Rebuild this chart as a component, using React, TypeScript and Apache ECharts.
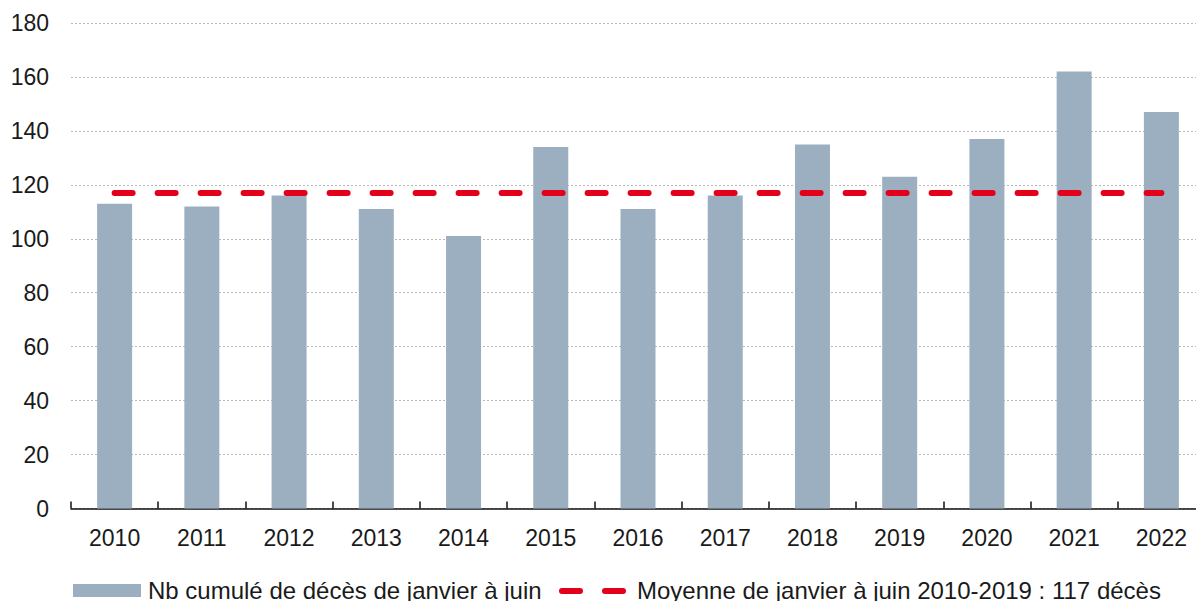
import React, { useEffect, useRef } from "react";
import * as echarts from "echarts";

const years = ["2010", "2011", "2012", "2013", "2014", "2015", "2016", "2017", "2018", "2019", "2020", "2021", "2022"];
const deaths = [113, 112, 116, 111, 101, 134, 111, 116, 135, 123, 137, 162, 147];
const averageValue = 117;
const averageLine = years.map(() => averageValue);
const barName = "Nb cumulé de décès de janvier à juin";
const lineName = "Moyenne de janvier à juin 2010-2019 : 117 décès";

const FONT = "'Liberation Sans', Arial, Helvetica, sans-serif";
const BAR_COLOR = "#9cafc0";
const RED = "#e2001a";

export default function App() {
  const ref = useRef<HTMLDivElement>(null);
  useEffect(() => {
    if (!ref.current) return;
    const chart = echarts.init(ref.current, undefined, { renderer: "svg" });
    chart.setOption({
      animation: false,
      backgroundColor: "#ffffff",
      grid: { left: 71, top: 23, width: 1134, height: 485.5, containLabel: false },
      xAxis: {
        type: "category",
        data: years,
        boundaryGap: true,
        axisLine: { show: true, lineStyle: { color: "#111", width: 1.5 } },
        axisTick: { show: true, inside: true, length: 7, alignWithLabel: false, lineStyle: { color: "#111", width: 1.5 } },
        axisLabel: { color: "#1a1a1a", fontSize: 23, fontFamily: FONT, margin: 18 },
        splitLine: { show: false },
      },
      yAxis: {
        type: "value",
        min: 0,
        max: 180,
        interval: 20,
        axisLine: { show: false },
        axisTick: { show: false },
        axisLabel: { color: "#1a1a1a", fontSize: 23, fontFamily: FONT, margin: 22 },
        splitLine: { show: true, lineStyle: { color: "#b8b8b8", width: 1, type: [2, 2] } },
      },
      series: [
        {
          name: barName,
          type: "bar",
          data: deaths,
          barWidth: 35,
          itemStyle: { color: BAR_COLOR },
          z: 2,
        },
        {
          name: lineName,
          type: "line",
          data: averageLine,
          symbol: "none",
          lineStyle: { color: RED, width: 6, type: [18, 25], cap: "round" },
          z: 3,
        },
      ],
      graphic: [
        { type: "rect", shape: { x: 73, y: 584, width: 68, height: 13 }, style: { fill: BAR_COLOR } },
        {
          type: "text",
          x: 148,
          y: 590,
          style: { text: barName, fontSize: 24, fontFamily: FONT, fill: "#1a1a1a", verticalAlign: "middle", align: "left" },
        },
        {
          type: "line",
          shape: { x1: 562, y1: 591, x2: 623, y2: 591 },
          style: { stroke: RED, lineWidth: 6, lineDash: [18, 25], lineCap: "round" },
        },
        {
          type: "text",
          x: 637,
          y: 590,
          style: { text: lineName, fontSize: 24, fontFamily: FONT, fill: "#1a1a1a", verticalAlign: "middle", align: "left" },
        },
      ],
    });
    return () => chart.dispose();
  }, []);
  return (
    <div style={{ position: "fixed", left: 0, top: 0, width: 1196, height: 601, overflow: "hidden", background: "#fff" }}>
      <div ref={ref} style={{ position: "absolute", left: 0, top: 0, width: 1210, height: 601 }} />
    </div>
  );
}
